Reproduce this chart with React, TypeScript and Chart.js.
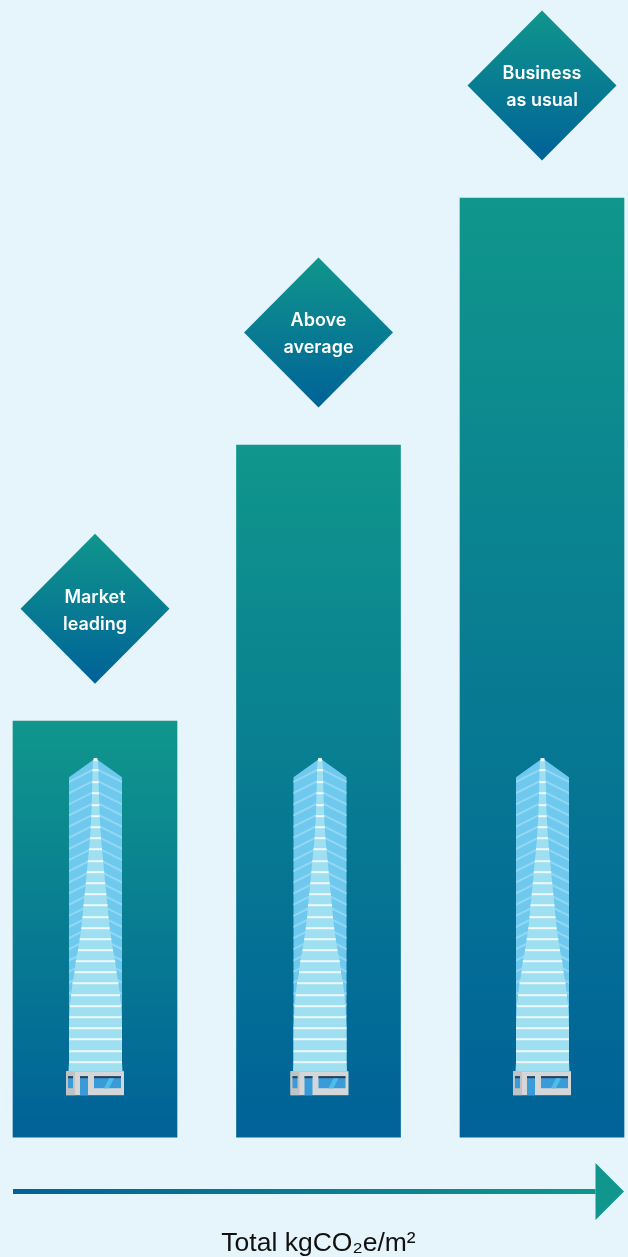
import React, { useEffect, useRef } from "react";
import { Chart, registerables } from "chart.js";

Chart.register(...registerables);

const categories = [["Market", "leading"], ["Above", "average"], ["Business", "as usual"]];
const totals = [416, 692, 939];
const axisMax = 1137;
const axisTitle = "Total kgCO₂e/m²";

const PAGE = "#E6F4FB";
const TEAL = "#10968C";
const BLUE = "#006298";
const FONT_LABEL = "600 18px Inter, 'Liberation Sans', sans-serif";

// Half widths of the tower's central core, sampled per floor: [height above the bar base, half width]
const coreFloors: [number, number][] = [
  [376, 2.5], [367, 3], [355, 3.2], [344, 3.5], [332, 3.8], [321, 4.2], [310, 4.8], [299, 5.5], [288, 6.5],
  [276, 7.7], [265, 8.7], [254, 9.7], [243, 10.8], [232, 12], [220, 13], [209, 14.2], [198, 15.8],
  [187, 17.5], [176, 19.7], [165, 21], [154, 23], [142, 24.5], [131, 25.5], [120, 26], [109, 26.5],
  [98, 26.5], [86, 26.5], [75, 26.5],
];

function gradientBetween(ctx: CanvasRenderingContext2D, x0: number, y0: number, x1: number, y1: number, a: string, b: string) {
  const g = ctx.createLinearGradient(x0, y0, x1, y1);
  g.addColorStop(0, a);
  g.addColorStop(1, b);
  return g;
}

// One skyscraper; cx is its centre line, base the y of the bar's foot.
function drawTower(ctx: CanvasRenderingContext2D, cx: number, base: number) {
  const y = (h: number) => base - h;
  ctx.save();

  // Angled wings behind the core
  ctx.beginPath();
  ctx.moveTo(cx, y(379));
  ctx.lineTo(cx + 26.5, y(360));
  ctx.lineTo(cx + 26.5, y(66));
  ctx.lineTo(cx - 26.5, y(66));
  ctx.lineTo(cx - 26.5, y(360));
  ctx.closePath();
  ctx.fillStyle = "#6FC8EE";
  ctx.fill();
  ctx.save();
  ctx.clip();
  ctx.strokeStyle = "#93D8F2";
  ctx.lineWidth = 2;
  for (let h = 355; h > 120; h -= 11.15) {
    ctx.beginPath();
    ctx.moveTo(cx - 27, y(h));
    ctx.lineTo(cx, y(h + 13.5));
    ctx.lineTo(cx + 27, y(h));
    ctx.stroke();
  }
  ctx.restore();

  // Core silhouette
  ctx.beginPath();
  ctx.moveTo(cx, y(379));
  coreFloors.forEach(([h, w]) => ctx.lineTo(cx + w, y(h)));
  ctx.lineTo(cx + 27, y(66));
  ctx.lineTo(cx - 27, y(66));
  [...coreFloors].reverse().forEach(([h, w]) => ctx.lineTo(cx - w, y(h)));
  ctx.closePath();
  ctx.fillStyle = "#9FDFF2";
  ctx.fill();

  // Floor slabs
  ctx.fillStyle = "#EEF7FA";
  coreFloors.forEach(([h, w], i) => {
    if (i === 0) return;
    ctx.fillRect(cx - w, y(h) - 1, w * 2, 2);
  });
  ctx.fillStyle = "#FFFFFF";
  ctx.fillRect(cx - 2, y(379), 4, 3);

  // Podium
  const px = cx - 29.5;
  ctx.fillStyle = "#D4D6D8";
  ctx.fillRect(px, y(66), 58, 24);
  ctx.fillStyle = "#C0C2C4";
  ctx.fillRect(px, y(66), 9, 24);
  ctx.fillStyle = "#3A9BD9";
  ctx.fillRect(px + 2, y(61), 5, 12);
  ctx.fillRect(px + 14, y(61), 8, 19);
  ctx.fillRect(px + 28, y(61), 27, 12);
  ctx.fillStyle = "#2D3E4D";
  ctx.fillRect(px + 2, y(61), 5, 2);
  ctx.fillRect(px + 14, y(61), 8, 2);
  ctx.fillRect(px + 28, y(61), 27, 2);
  ctx.fillStyle = "#4CBDEC";
  ctx.beginPath();
  ctx.moveTo(px + 38, y(49));
  ctx.lineTo(px + 43, y(59));
  ctx.lineTo(px + 48, y(59));
  ctx.lineTo(px + 43, y(49));
  ctx.closePath();
  ctx.fill();
  ctx.restore();
}

const towerOffsets = [0.5, 1.5, 0.5];

const decorations = {
  id: "decorations",
  beforeDraw(chart: Chart) {
    const { ctx, width, height } = chart;
    ctx.save();
    ctx.fillStyle = PAGE;
    ctx.fillRect(0, 0, width, height);
    ctx.restore();
  },
  afterDatasetsDraw(chart: Chart) {
    const { ctx } = chart;
    const bars = chart.getDatasetMeta(0).data as any[];
    bars.forEach((bar, i) => {
      drawTower(ctx, bar.x + towerOffsets[i], bar.base);

      // Rating diamond floating above the bar
      const cy = bar.y - 112.5;
      const rx = 74.5;
      const ry = 75;
      ctx.save();
      ctx.beginPath();
      ctx.moveTo(bar.x, cy - ry);
      ctx.lineTo(bar.x + rx, cy);
      ctx.lineTo(bar.x, cy + ry);
      ctx.lineTo(bar.x - rx, cy);
      ctx.closePath();
      ctx.fillStyle = gradientBetween(ctx, 0, cy - ry, 0, cy + ry, TEAL, BLUE);
      ctx.fill();
      ctx.fillStyle = "#FFFFFF";
      ctx.font = FONT_LABEL;
      ctx.textAlign = "center";
      ctx.textBaseline = "middle";
      categories[i].forEach((line, k) => ctx.fillText(line, bar.x, cy - 11.5 + k * 27));
      ctx.restore();
    });

    // Direction arrow under the bars
    const x0 = 13;
    const tip = 624;
    const neck = 595.5;
    const ay = 1191.5;
    ctx.save();
    ctx.fillStyle = gradientBetween(ctx, x0, 0, neck, 0, BLUE, TEAL);
    ctx.fillRect(x0, ay - 2.5, neck - x0, 5);
    ctx.fillStyle = TEAL;
    ctx.beginPath();
    ctx.moveTo(neck, ay - 28.5);
    ctx.lineTo(tip, ay);
    ctx.lineTo(neck, ay + 28.5);
    ctx.closePath();
    ctx.fill();
    ctx.restore();
  },
};

export default function App() {
  const ref = useRef<HTMLCanvasElement>(null);

  useEffect(() => {
    document.body.style.margin = "0";
    const chart = new Chart(ref.current!, {
      type: "bar",
      data: {
        labels: categories,
        datasets: [
          {
            data: totals,
            barThickness: 164,
            clip: false,
            backgroundColor: (c: any) => {
              const yScale = c.chart.scales.y;
              const value = totals[c.dataIndex];
              if (!yScale || value === undefined) return TEAL;
              const top = yScale.getPixelForValue(value);
              const foot = yScale.getPixelForValue(0);
              if (!Number.isFinite(top) || !Number.isFinite(foot)) return TEAL;
              return gradientBetween(c.chart.ctx, 0, top, 0, foot, TEAL, BLUE);
            },
          },
        ],
      },
      options: {
        responsive: false,
        animation: false,
        layout: { padding: { left: 95, right: 86, top: 0, bottom: 0 } },
        plugins: { legend: { display: false }, tooltip: { enabled: false } },
        scales: {
          x: {
            offset: false,
            grid: { display: false },
            border: { display: false },
            ticks: { display: false },
            title: {
              display: true,
              text: axisTitle,
              color: "#111111",
              font: { family: "'Liberation Sans', Arial, sans-serif", size: 26.5, weight: "normal", lineHeight: 1.2 },
              padding: { top: 83, bottom: -3 },
            },
          },
          y: { display: false, min: 0, max: axisMax },
        },
      },
      plugins: [decorations],
    });
    return () => chart.destroy();
  }, []);

  return <canvas ref={ref} width={628} height={1257} style={{ display: "block" }} />;
}
